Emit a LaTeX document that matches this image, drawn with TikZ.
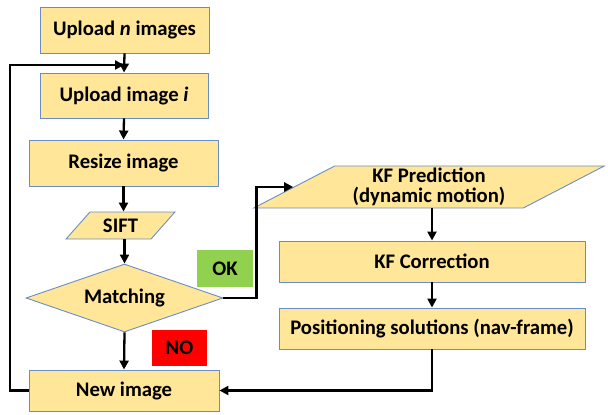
\documentclass[tikz,border=0pt]{standalone}
\usepackage{fontspec}
\setmainfont{Carlito}
\usepackage{tikz}
\usetikzlibrary{arrows.meta, shapes.geometric}

\definecolor{boxfill}{HTML}{FFE699}
\definecolor{boxline}{HTML}{6A8EC4}
\definecolor{okgreen}{HTML}{92D050}

\begin{document}
\begin{tikzpicture}[x=1pt, y=-1pt,
	font=\fontsize{20.7}{20}\selectfont\bfseries,
	box/.style={draw=boxline, fill=boxfill, line width=0.9pt, inner sep=0pt, rectangle},
	datablock/.style={box, trapezium, trapezium stretches=true, trapezium left angle=#1, trapezium right angle=180-#1},
	decision/.style={box, diamond, aspect=2.9},
	flow/.style={line width=2.3pt, -{Triangle[length=9pt,width=9pt]}},
	tag/.style={inner sep=0pt, minimum width=56, minimum height=37}]
	\useasboundingbox (0,0) rectangle (608,415);

	%left column
	\node[box, minimum width=169, minimum height=46] (upn) at (124.5,30) {Upload \textit{n} images};
	\node[box, minimum width=168, minimum height=45] (upi) at (124,95.5) {Upload image \textit{i}};
	\node[box, minimum width=189, minimum height=46] (resize) at (123.5,163) {Resize image};
	\node[datablock=45, minimum width=109, minimum height=27] (sift) at (120.5,225.5) {SIFT};
	\node[decision, minimum width=197, minimum height=68] (match) at (124.5,298) {Matching};
	\node[box, minimum width=190, minimum height=41] (newimg) at (124,390.5) {New image};

	%right column
	\node[datablock=30, minimum width=352, minimum height=42, align=center] (pred) at (429,187) {KF Prediction\\(dynamic motion)};
	\node[box, minimum width=306, minimum height=41] (corr) at (432,261.5) {KF Correction};
	\node[box, minimum width=306, minimum height=41] (pos) at (432,328.5) {Positioning solutions (nav-frame)};

	%labels
	\node[tag, fill=okgreen] (ok) at (225,268.5) {OK};
	\node[tag, fill=red, minimum width=55, minimum height=36] (no) at (179.5,348) {NO};

	%arrows
	\coordinate (corner) at (10,65);
	\draw[flow] (upn.south) -- (upi.north);
	\draw[flow] (upi.south) -- (resize.north);
	\draw[flow] (resize.south) -- (resize.south |- sift.top side);
	\draw[flow] (match.north |- sift.bottom side) -- (match.north);
	\draw[flow] (match.south) -- (newimg.north);
	\draw[flow] (match.east) -- ([xshift=33pt]match.east) |- (pred.left side);
	\draw[flow] (corr.north |- pred.bottom side) -- (corr.north);
	\draw[flow] (corr.south) -- (pos.north);
	\draw[flow] (pos.south) |- (newimg.east);
	\draw[flow] (newimg.west) -| (corner) -- (upi.north |- corner);
\end{tikzpicture}
\end{document}
